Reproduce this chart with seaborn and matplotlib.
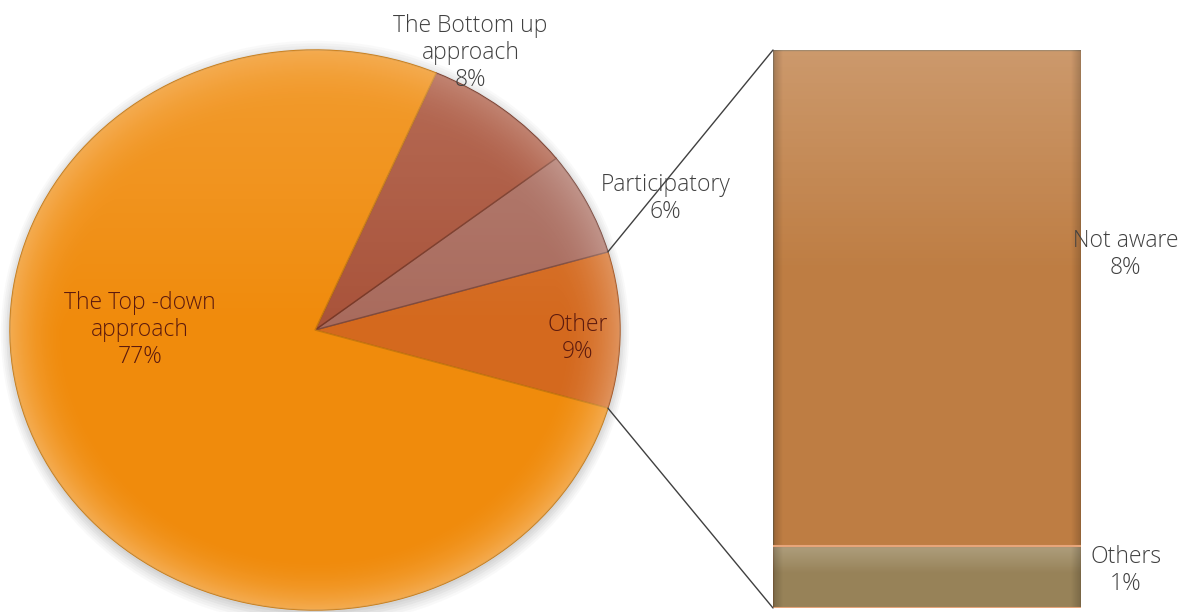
import numpy as np
import matplotlib
matplotlib.use("Agg")
import matplotlib.pyplot as plt
from matplotlib.patches import ConnectionPatch, Ellipse
import seaborn as sns

# Approach adopted (main pie)
pie_labels = ["Other", "Participatory", "The Bottom up\napproach", "The Top -down\napproach"]
pie_values = [9, 6, 8, 77]
pie_colors = ["#D4691E", "#A96B5D", "#A9533A", "#F08B0C"]
pie_edges = ["#A8521A", "#7E4A3E", "#7A3826", "#C8780E"]
pie_text_colors = ["#5C1A0E", "#404040", "#404040", "#5C1A0E"]

# Breakdown of the "Other" slice (stacked bar)
bar_labels = ["Others", "Not aware"]
bar_values = [1, 8]
bar_colors = ["#978258", "#BE7D43"]

sns.set_theme(style="white")
plt.rcParams["font.family"] = ["Open Sans", "DejaVu Sans"]

FS = 16.5
FW = "light"

W, H = 1185, 612
fig = plt.figure(figsize=(W / 100, H / 100), dpi=100)
fig.patch.set_facecolor("white")

# ---- pie ----
cx, cy, rx, ry = 315, 330, 305, 280
pie_ax = fig.add_axes([(cx - rx) / W, (H - cy - ry) / H, 2 * rx / W, 2 * ry / H])
pie_ax.set_xlim(-1, 1)
pie_ax.set_ylim(-1, 1)

# soft shadow under the pie
for k, a in zip(range(6), [0.05, 0.05, 0.05, 0.04, 0.04, 0.03]):
    sh = Ellipse((0.0, -0.012), 2 + 0.012 * k, 2 + 0.018 * k, color="#555555",
                 alpha=a, lw=0, zorder=0, clip_on=False)
    pie_ax.add_patch(sh)

total = sum(pie_values)
start = -pie_values[0] / total * 360 / 2
wedges, _ = pie_ax.pie(pie_values, colors=pie_colors, startangle=start,
                       counterclock=True, radius=1.0,
                       wedgeprops=dict(linewidth=1.0))
pie_ax.set_aspect("auto")
pie_ax.axis("off")

# radial sheen: lighter rim, lighter upper half
yy, xx = np.mgrid[-1:1:400j, -1:1:400j]
rr = np.sqrt(xx ** 2 + yy ** 2)
rim = np.clip((rr - 0.80) / 0.20, 0, 1) ** 2
top = np.clip(yy, 0, 1) * 0.25
sheen = np.zeros((400, 400, 4))
sheen[..., :3] = 1.0
sheen[..., 3] = np.clip(0.28 * rim + top * (1 - rim) * 0.6, 0, 0.4)

for w, ec in zip(wedges, pie_edges):
    w.set_edgecolor(ec)
    w.set_clip_on(False)
    im = pie_ax.imshow(sheen, extent=(-1, 1, -1, 1), origin="lower",
                       interpolation="bilinear", zorder=w.get_zorder() + 0.1)
    im.set_clip_path(w)
pie_ax.set_aspect("auto")
pie_ax.set_xlim(-1, 1)
pie_ax.set_ylim(-1, 1)

# slice labels
label_pos = [(0.86, -0.03), (1.15, 0.47), (0.51, 0.99), (-0.575, 0.0)]
for lab, val, (lx, ly), tc in zip(pie_labels, pie_values, label_pos, pie_text_colors):
    pie_ax.text(lx, ly, f"{lab}\n{val}%", ha="center", va="center",
                fontsize=FS, fontweight=FW, color=tc, linespacing=1.18,
                zorder=10, clip_on=False)

# ---- stacked bar ----
bx0, bx1, by0, by1 = 773, 1081, 50, 608
bar_ax = fig.add_axes([bx0 / W, (H - by1) / H, (bx1 - bx0) / W, (by1 - by0) / H])
cum = np.cumsum(bar_values)
for c, h in reversed(list(zip(bar_colors, cum))):
    sns.barplot(x=["Other"], y=[h], color=c, saturation=1, width=1,
                ax=bar_ax, edgecolor="#8A6A45", linewidth=1.0)
bar_ax.set_xlim(-0.5, 0.5)
bar_ax.set_ylim(0, cum[-1])
bar_ax.axis("off")

# vertical sheen and bevelled sides on each bar segment
segs = sorted(bar_ax.patches, key=lambda q: q.get_height())
lows = [0] + list(cum[:-1])
for p, lo, hi in zip(segs, lows, cum):
    t = np.linspace(0, 1, 200)[:, None] * np.ones((1, 200))
    edge = np.minimum(np.linspace(0, 1, 200), np.linspace(1, 0, 200))[None, :] * np.ones((200, 1))
    g = np.zeros((200, 200, 4))
    light = np.clip((t - 0.55) / 0.45, 0, 1)
    g[..., :3] = 1.0
    g[..., 3] = 0.22 * light
    im = bar_ax.imshow(g, extent=(-0.5, 0.5, lo, hi), origin="lower",
                       aspect="auto", zorder=5, interpolation="bilinear")
    im.set_clip_path(p)
    d = np.zeros((200, 200, 4))
    d[..., 3] = 0.18 * np.clip(1 - edge / 0.03, 0, 1)
    im2 = bar_ax.imshow(d, extent=(-0.5, 0.5, lo, hi), origin="lower",
                        aspect="auto", zorder=5, interpolation="bilinear")
    im2.set_clip_path(p)
    bar_ax.plot([-0.5, 0.5], [lo, lo], color="#E7A57A", lw=1.5, zorder=6)
bar_ax.set_xlim(-0.5, 0.5)
bar_ax.set_ylim(0, cum[-1])

bar_label_pos = [(0.645, 0.6), (0.645, 5.7)]
for lab, val, (lx, ly) in zip(bar_labels, bar_values, bar_label_pos):
    bar_ax.text(lx, ly, f"{lab}\n{val}%", ha="center", va="center",
                fontsize=FS, fontweight=FW, color="#404040", linespacing=1.18,
                clip_on=False, zorder=10)

# ---- connector lines from the "Other" slice to the bar ----
half = np.deg2rad(pie_values[0] / total * 360 / 2)
for sgn, yb in [(1, cum[-1]), (-1, 0)]:
    con = ConnectionPatch(xyA=(np.cos(half), sgn * np.sin(half)), coordsA=pie_ax.transData,
                          xyB=(-0.5, yb), coordsB=bar_ax.transData,
                          color="#404040", lw=1.0, zorder=20)
    fig.add_artist(con)

fig.savefig("out.png", dpi=100, facecolor="white")
